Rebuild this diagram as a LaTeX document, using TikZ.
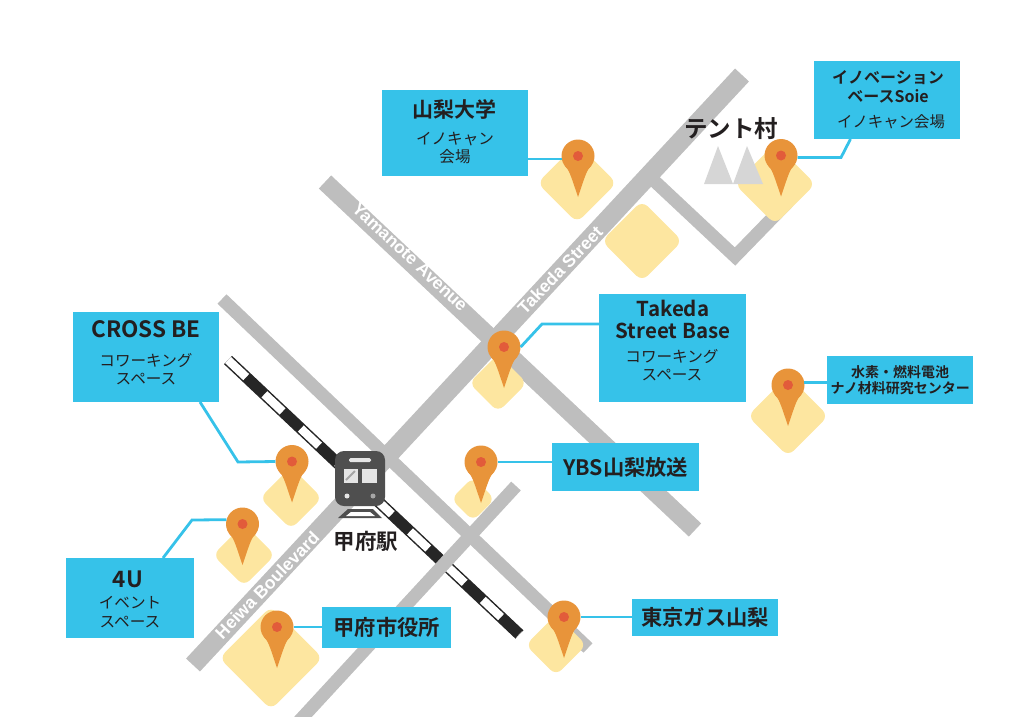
\documentclass[tikz,border=0pt]{standalone}
\usepackage{fontspec}
\setmainfont{Noto Sans CJK JP}[BoldFont={* Bold}]
\newfontfamily\latinfont{Liberation Sans}
\usetikzlibrary{positioning, calc}
\definecolor{skybox}{HTML}{36C2E9}
\definecolor{pinorange}{HTML}{E8943A}
\definecolor{pindot}{HTML}{E25B3A}
\definecolor{padyellow}{HTML}{FDE6A0}
\definecolor{roadgray}{HTML}{BEBEBE}
\definecolor{inkdark}{HTML}{231F20}
\definecolor{trainbody}{HTML}{4F4F4F}
\tikzstyle{infobox} = [rectangle, fill=skybox, inner sep=0pt, text=inkdark, align=center, anchor=north west]
\tikzstyle{road} = [line width=13pt, draw=roadgray]
\tikzstyle{roadlabel} = [text=white, font=\latinfont\bfseries\fontsize{17.5}{17.5}\selectfont]
\tikzstyle{pad} = [rectangle, rounded corners=8pt, fill=padyellow, rotate=45, inner sep=0pt]
\tikzstyle{pinhead} = [circle, fill=pinorange, minimum size=33pt, inner sep=0pt]
\tikzstyle{link} = [line width=2.8pt, draw=skybox]
\tikzstyle{boxlabel} = [text=inkdark, align=center]
\newcommand{\titlefont}{\bfseries\fontsize{22.5}{26}\selectfont}
\newcommand{\subfont}{\fontsize{15.6}{18.6}\selectfont}
\newcommand{\namefont}{\bfseries\fontsize{21.3}{21.3}\selectfont}
% pin: name, head x, head y
\newcommand{\mappin}[3]{
\fill [pinorange] (#2-13,#3+10) .. controls (#2-9,#3+14) and (#2-8,#3+17) .. (#2,#3+41) .. controls (#2+8,#3+17) and (#2+9,#3+14) .. (#2+13,#3+10) -- cycle;
\node (#1) [pinhead] at (#2,#3) {};
\fill [pindot] (#2,#3) circle (5);
}
\begin{document}
\begin{tikzpicture}[x=1pt,y=-1pt]
\useasboundingbox (0,0) rectangle (1024,726);

% roads
\draw [road, line width=19pt] (193,665) -- (742,75);
\draw [road, line width=18pt] (325,182) -- (695,530);
\draw [road] (222,299) -- (588,648);
\draw [road, line join=miter] (648,175) -- (735,256.5) -- (788,202);

% track
\draw [line width=11.5pt, draw=black!85] (228,360) -- (519.5,634.5);
\draw [line width=8.5pt, draw=white, dash pattern=on 25pt off 25pt] (228,360) -- (519.5,634.5);
\begin{scope}
\clip (0,0) rectangle (1024,716);
\draw [road] (516,486) -- (290,731);
\end{scope}

\node [roadlabel, rotate=-43] at (410,257) {Yamanote Avenue};
\node [roadlabel, rotate=46] at (560,270) {Takeda Street};
\node [roadlabel, rotate=46] at (267,585) {Heiwa Boulevard};

% pads
\node [pad, minimum size=56pt] at (577,183) {};
\node [pad, minimum size=57pt] at (642,241) {};
\node [pad, minimum size=57pt] at (775,184) {};
\node [pad, minimum size=41pt] at (498,383) {};
\node [pad, minimum size=57pt] at (788,416) {};
\node [pad, minimum size=44pt] at (291,498) {};
\node [pad, minimum size=31pt] at (473,499) {};
\node [pad, minimum size=44pt] at (244,555) {};
\node [pad, minimum size=73pt] at (271,658) {};
\node [pad, minimum size=43pt] at (556,645) {};

% tents
\fill [gray!32] (704,184) -- (718,146) -- (733,184) -- cycle;
\fill [gray!32] (733,184) -- (747,146) -- (763,184) -- cycle;
\node (tentlabel) [text=inkdark, font=\bfseries\fontsize{23.5}{23.5}\selectfont] at (731,129) {テント村};

% station
\fill [trainbody] (338,518) -- (348,509) -- (373,509) -- (382,518) -- cycle;
\fill [white] (346,516) -- (351,512) -- (370,512) -- (375,516) -- cycle;
\fill [trainbody, rounded corners=9pt] (335,506) -- (335,451) -- (385,451) -- (385,506) -- cycle;
\fill [white!90!black, rounded corners=1.5pt] (349,458) rectangle (371,462);
\fill [white!90!black] (344,469) rectangle (358,483);
\fill [white!90!black] (362,469) rectangle (377,483);
\draw [gray!70, line width=2pt] (346,480) -- (355,471);
\fill [white!90!black] (347,496) circle (2.5);
\fill [gray!70] (373,496) circle (2.5);
\node (stationlabel) [text=inkdark, font=\bfseries\fontsize{21.5}{21.5}\selectfont] at (366,541) {甲府駅};

% boxes
\node (univbox) [infobox, minimum width=146pt, minimum height=86pt] at (382,90) {};
\node (univname) [boxlabel, font=\bfseries\fontsize{21}{21}\selectfont] at (454,109) {山梨大学};
\node (univsub) [boxlabel, font=\subfont] at (455,148) {イノキャン\\会場};
\node (soiebox) [infobox, minimum width=146pt, minimum height=78pt] at (814,61) {};
\node (soiename) [boxlabel, font=\bfseries\fontsize{16}{19}\selectfont] at (888,87) {イノベーション\\ベースSoie};
\node (soiesub) [boxlabel, font=\fontsize{15.4}{18}\selectfont] at (891,122) {イノキャン会場};
\node (takedabox) [infobox, minimum width=147pt, minimum height=108pt] at (599,294) {};
\node (takedaname) [boxlabel, font=\bfseries\fontsize{20.5}{22}\selectfont] at (673,319) {Takeda\\Street Base};
\node (takedasub) [boxlabel, font=\subfont] at (672,365) {コワーキング\\スペース};
\node (h2box) [infobox, minimum width=146pt, minimum height=48pt, font=\bfseries\fontsize{14}{16.5}\selectfont] at (827,356) {水素・燃料電池\\ナノ材料研究センター};
\node (ybsbox) [infobox, minimum width=147pt, minimum height=48pt, font=\namefont] at (552,443) {YBS山梨放送};
\node (gasbox) [infobox, minimum width=146pt, minimum height=37pt, font=\namefont] at (632,599) {東京ガス山梨};
\node (cityhallbox) [infobox, minimum width=129pt, minimum height=41pt, font=\namefont] at (322,607) {甲府市役所};
\node (crossbox) [infobox, minimum width=146pt, minimum height=90pt] at (73,312) {};
\node (crossname) [boxlabel, font=\titlefont] at (146,329) {CROSS BE};
\node (crosssub) [boxlabel, font=\subfont] at (146,369) {コワーキング\\スペース};
\node (fourubox) [infobox, minimum width=128pt, minimum height=80pt] at (66,558) {};
\node (fourname) [boxlabel, font=\titlefont] at (128,579) {4U};
\node (foursub) [boxlabel, font=\subfont] at (130,612) {イベント\\スペース};

% connectors
\mappin{univpin}{578}{156}
\mappin{soiepin}{781}{155.5}
\mappin{takedapin}{504}{347}
\mappin{h2pin}{788}{385}
\mappin{crosspin}{292}{461.5}
\mappin{ybspin}{481}{462}
\mappin{fourupin}{242.5}{524}
\mappin{citypin}{277}{627}
\mappin{gaspin}{564}{617}

\coordinate (soieturn) at (841,157.5);
\coordinate (soieout) at (850.5,139);
\coordinate (takedaturn) at (542,324);
\coordinate (crossturn) at (238,462);
\coordinate (crossout) at (200,402);
\coordinate (fourturn) at (192,520);
\coordinate (fourout) at (163,558);
\draw [link] (univbox.east |- univpin.190) -- (univpin.190);
\draw [link] (soieout) -- (soieturn) -- (soiepin.-7);
\draw [link] (takedabox.west |- takedaturn) -- (takedaturn) -- (takedapin.east);
\draw [link] (h2box.west |- h2pin.10) -- (h2pin.10);
\draw [link] (ybsbox.west |- ybspin) -- (ybspin.east);
\draw [link] (gasbox.west |- gaspin) -- (gaspin.east);
\draw [link] (cityhallbox.west |- citypin) -- (citypin.east);
\draw [link] (crossout) -- (crossturn) -- (crosspin.west);
\draw [link] (fourout) -- (fourturn) -- (fourupin.165);
\end{tikzpicture}
\end{document}
